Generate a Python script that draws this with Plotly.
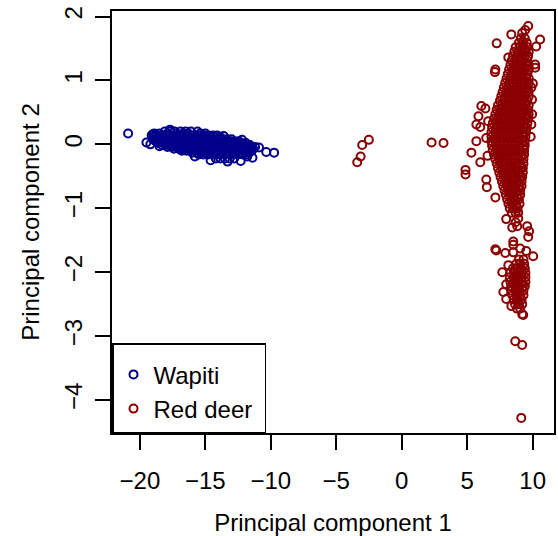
import plotly.graph_objects as go

# ---------------- data ----------------
# Wapiti: dense core, given as rows (y level -> x positions)
wapiti_row_y = [0.20, 0.17, 0.14, 0.11, 0.08, 0.05, 0.02, -0.01, -0.04, -0.07,
                -0.10, -0.13, -0.16, -0.22]
wapiti_row_x = [
    [-18.1, -17.7, -17.35, -16.9, -16.5, -16.1, -15.6],
    [-18.9, -18.5, -17.9, -17.2, -16.7, -16.3, -15.4, -15.0],
    [-19.1, -18.8, -18.45, -18.1, -17.8, -17.45, -17.1, -16.8, -16.45, -16.1, -15.8, -15.45, -15.1, -14.75, -14.4, -14.1],
    [-18.9, -18.55, -18.2, -17.9, -17.55, -17.2, -16.9, -16.55, -16.2, -15.9, -15.55, -15.2, -14.9, -14.55, -14.2, -13.85],
    [-19.0, -18.7, -18.35, -18.0, -17.7, -17.35, -17.0, -16.7, -16.35, -16.0, -15.7, -15.35, -15.0, -14.7, -14.35, -14.0, -13.7, -13.35, -13.0],
    [-18.8, -18.5, -18.15, -17.8, -17.5, -17.15, -16.8, -16.5, -16.15, -15.8, -15.5, -15.15, -14.8, -14.5, -14.15, -13.8, -13.5, -13.15, -12.8, -12.45],
    [-18.6, -18.25, -17.9, -17.6, -17.25, -16.9, -16.6, -16.25, -15.9, -15.6, -15.25, -14.9, -14.6, -14.25, -13.9, -13.6, -13.25, -12.9, -12.6, -12.25, -11.9],
    [-18.3, -17.95, -17.6, -17.3, -16.95, -16.6, -16.3, -15.95, -15.6, -15.3, -14.95, -14.6, -14.3, -13.95, -13.6, -13.3, -12.95, -12.6, -12.3, -11.95, -11.6],
    [-17.9, -17.55, -17.2, -16.9, -16.55, -16.2, -15.9, -15.55, -15.2, -14.9, -14.55, -14.2, -13.9, -13.55, -13.2, -12.9, -12.55, -12.2, -11.9, -11.55, -11.2],
    [-17.4, -17.05, -16.7, -16.4, -16.05, -15.7, -15.4, -15.05, -14.7, -14.4, -14.05, -13.7, -13.4, -13.05, -12.7, -12.4, -12.05, -11.7, -11.35],
    [-16.8, -16.45, -16.1, -15.8, -15.45, -15.1, -14.8, -14.45, -14.1, -13.8, -13.45, -13.1, -12.8, -12.45, -12.1, -11.8, -11.45],
    [-16.0, -15.65, -15.3, -15.0, -14.65, -14.3, -14.0, -13.65, -13.3, -13.0, -12.65, -12.3, -12.0, -11.65],
    [-15.5, -15.15, -14.8, -14.5, -14.15, -13.8, -13.5, -13.15, -12.8, -12.5, -12.15, -11.8],
    [-14.2, -13.85, -13.5, -13.15, -12.8],
]
# Wapiti: scattered points around the core
wapiti_extra_x = [-20.9, -19.5, -19.2, -18.5, -19.0, -17.7, -16.9, -10.9, -10.35, -9.75,
                  -11.8, -11.4, -12.3, -13.3, -14.6, -15.8, -13.6, -12.2]
wapiti_extra_y = [0.17, 0.03, 0.0, -0.03, 0.16, 0.23, -0.08, -0.05, -0.12, -0.13,
                  -0.19, -0.21, -0.26, -0.27, -0.25, -0.19, 0.13, 0.07]

# Red deer: dense upper core as rows
reddeer_row_y = [1.66, 1.59, 1.52, 1.45, 1.38, 1.31, 1.24, 1.17, 1.10, 1.03,
                 0.96, 0.89, 0.82, 0.75, 0.68, 0.61, 0.54, 0.47, 0.40, 0.33,
                 0.26, 0.19, 0.12, 0.05, -0.02, -0.09, -0.16, -0.23, -0.30, -0.37,
                 -0.44, -0.51, -0.58, -0.65, -0.72, -0.79, -0.86, -0.93, -1.00, -1.07]
reddeer_row_x = [
    [9.1, 9.4],
    [8.95, 9.25, 9.55],
    [8.7, 9.0, 9.3, 9.6],
    [8.6, 8.9, 9.2, 9.45, 9.7],
    [8.5, 8.8, 9.1, 9.4, 9.65],
    [8.4, 8.7, 9.0, 9.3, 9.6],
    [8.3, 8.6, 8.9, 9.2, 9.5, 9.7],
    [8.2, 8.5, 8.8, 9.1, 9.4, 9.7],
    [8.1, 8.4, 8.7, 9.0, 9.3, 9.6],
    [8.0, 8.3, 8.6, 8.9, 9.2, 9.5, 9.7],
    [7.9, 8.2, 8.5, 8.8, 9.1, 9.4, 9.7],
    [7.8, 8.1, 8.4, 8.7, 9.0, 9.3, 9.6],
    [7.7, 8.0, 8.3, 8.6, 8.9, 9.2, 9.5, 9.7],
    [7.6, 7.9, 8.2, 8.5, 8.8, 9.1, 9.4, 9.7],
    [7.5, 7.8, 8.1, 8.4, 8.7, 9.0, 9.3, 9.6],
    [7.35, 7.65, 7.95, 8.25, 8.55, 8.85, 9.15, 9.45, 9.7],
    [7.25, 7.55, 7.85, 8.15, 8.45, 8.75, 9.05, 9.35, 9.65],
    [7.15, 7.45, 7.75, 8.05, 8.35, 8.65, 8.95, 9.25, 9.55, 9.7],
    [7.05, 7.35, 7.65, 7.95, 8.25, 8.55, 8.85, 9.15, 9.45, 9.65],
    [6.95, 7.25, 7.55, 7.85, 8.15, 8.45, 8.75, 9.05, 9.35, 9.6],
    [6.9, 7.2, 7.5, 7.8, 8.1, 8.4, 8.7, 9.0, 9.3, 9.55],
    [6.85, 7.15, 7.45, 7.75, 8.05, 8.35, 8.65, 8.95, 9.25, 9.5],
    [6.85, 7.15, 7.45, 7.75, 8.05, 8.35, 8.65, 8.95, 9.25, 9.45],
    [6.85, 7.15, 7.45, 7.75, 8.05, 8.35, 8.65, 8.95, 9.2, 9.4],
    [6.9, 7.2, 7.5, 7.8, 8.1, 8.4, 8.7, 9.0, 9.3, 9.4],
    [6.95, 7.25, 7.55, 7.85, 8.15, 8.45, 8.75, 9.05, 9.35],
    [7.05, 7.35, 7.65, 7.95, 8.25, 8.55, 8.85, 9.15, 9.35],
    [7.15, 7.45, 7.75, 8.05, 8.35, 8.65, 8.95, 9.3],
    [7.25, 7.55, 7.85, 8.15, 8.45, 8.75, 9.05, 9.3],
    [7.35, 7.65, 7.95, 8.25, 8.55, 8.85, 9.1, 9.25],
    [7.45, 7.75, 8.05, 8.35, 8.65, 8.95, 9.25],
    [7.55, 7.85, 8.15, 8.45, 8.75, 9.05, 9.2],
    [7.65, 7.95, 8.25, 8.55, 8.85, 9.15],
    [7.75, 8.05, 8.35, 8.65, 8.95, 9.15],
    [7.85, 8.15, 8.45, 8.75, 9.05],
    [7.95, 8.25, 8.55, 8.85, 9.05],
    [8.05, 8.35, 8.65, 8.95],
    [8.15, 8.45, 8.75, 9.0],
    [8.25, 8.55, 8.85],
    [8.4, 8.7, 8.9],
]
# Red deer: dense lower cluster as rows
reddeer_low_row_y = [-1.80, -1.87, -1.94, -2.01, -2.08, -2.15, -2.22, -2.29, -2.36, -2.43, -2.50, -2.57]
reddeer_low_row_x = [
    [8.95, 9.3],
    [8.75, 9.05, 9.35],
    [8.5, 8.8, 9.1, 9.4],
    [8.3, 8.6, 8.9, 9.2, 9.45],
    [8.25, 8.55, 8.85, 9.15, 9.45],
    [8.3, 8.6, 8.9, 9.2, 9.45],
    [8.35, 8.65, 8.95, 9.25, 9.4],
    [8.4, 8.7, 9.0, 9.3],
    [8.45, 8.75, 9.05, 9.3],
    [8.55, 8.85, 9.15],
    [8.65, 8.95, 9.2],
    [8.8, 9.05],
]
# Red deer: scattered points
reddeer_extra_x = [9.66, 9.43, 9.2, 8.37, 10.57, 7.25, 10.27, 10.19, 10.19, 7.15,
                   7.12, 8.14, 9.9, 10.02, 9.96, 9.9, 6.08, 6.39, 5.86, 5.7,
                   6.0, 5.7, 5.32, 4.87, 4.87, 6.0, 6.46, 6.5, 7.15, 7.98,
                   8.44, 8.82, 9.58, 9.66, 9.73, 7.15, 7.22, 7.91, 8.52, 8.52,
                   8.52, 9.05, 9.51, 10.04, 7.68, 7.98, 7.76, 7.98, 8.37, 9.28,
                   8.14, 9.2, 8.67, 9.2, 9.13, 3.19, 2.28, -3.40, -3.14, -3.02,
                   -2.51, 6.6, 6.45, 6.55, 9.85, 9.95, 8.9, 8.7]
reddeer_extra_y = [1.85, 1.79, 1.74, 1.72, 1.64, 1.58, 1.53, 1.25, 1.20, 1.17,
                   1.13, 1.36, 0.89, 0.95, 0.47, 0.31, 0.60, 0.56, 0.44, 0.31,
                   0.27, 0.05, -0.13, -0.40, -0.47, -0.28, -0.55, -0.67, -0.83, -1.17,
                   -1.30, -1.28, -1.28, -1.45, -1.36, -1.64, -1.66, -1.70, -1.69, -1.52,
                   -1.57, -1.63, -1.67, -1.75, -2.00, -2.19, -2.31, -2.42, -2.53, -2.67,
                   -1.89, -2.66, -3.08, -3.14, -4.28, 0.02, 0.03, -0.28, -0.19, -0.01,
                   0.07, 0.36, 0.10, -0.18, 0.12, 0.70, -1.16, -1.22]

x_ticks = [-20, -15, -10, -5, 0, 5, 10]
x_ticktext = ["\u221220", "\u221215", "\u221210", "\u22125", "0", "5", "10"]
y_ticks = [-4, -3, -2, -1, 0, 1, 2]
y_ticktext = ["\u22124", "\u22123", "\u22122", "\u22121", "0", "1", "2"]


def flatten(row_y, row_x):
    xs, ys = [], []
    for yv, xrow in zip(row_y, row_x):
        for xv in xrow:
            xs.append(xv)
            ys.append(yv)
    return xs, ys


wx, wy = flatten(wapiti_row_y, wapiti_row_x)
wx += wapiti_extra_x
wy += wapiti_extra_y

rx, ry = flatten(reddeer_row_y, reddeer_row_x)
lx, ly = flatten(reddeer_low_row_y, reddeer_low_row_x)
rx += lx + reddeer_extra_x
ry += ly + reddeer_extra_y

BLUE = "#00008B"
RED = "#8B0000"
FONT = "Arial, Liberation Sans, Helvetica, sans-serif"
FS = 24

fig = go.Figure()
fig.add_trace(go.Scatter(x=wx, y=wy, mode="markers", name="Wapiti",
                         marker=dict(symbol="circle-open", size=8, color=BLUE,
                                     line=dict(width=2, color=BLUE))))
fig.add_trace(go.Scatter(x=rx, y=ry, mode="markers", name="Red deer",
                         marker=dict(symbol="circle-open", size=8, color=RED,
                                     line=dict(width=2, color=RED))))

axis_common = dict(showgrid=False, zeroline=False, showline=True, mirror=True,
                   linecolor="black", linewidth=1.5, ticks="outside", ticklen=15,
                   tickwidth=1.5, tickcolor="black",
                   tickfont=dict(family=FONT, size=FS, color="black"))

fig.update_layout(
    width=558, height=536,
    margin=dict(l=112, r=2, t=11, b=102),
    paper_bgcolor="white", plot_bgcolor="white",
    font=dict(family=FONT, size=FS, color="black"),
    xaxis=dict(range=[-22.13, 11.63], tickvals=x_ticks, ticktext=x_ticktext,
               ticklabelstandoff=10,
               title=dict(text="Principal component 1", standoff=24,
                          font=dict(family=FONT, size=FS, color="black")),
               **axis_common),
    yaxis=dict(range=[-4.516, 2.086], tickvals=y_ticks, ticktext=y_ticktext,
               tickangle=-90, ticklabelstandoff=4,
               title=dict(text="Principal component 2", standoff=13,
                          font=dict(family=FONT, size=FS, color="black")),
               **axis_common),
    showlegend=True,
    legend=dict(x=0, y=0, xanchor="left", yanchor="bottom",
                bordercolor="black", borderwidth=1.5, bgcolor="white",
                font=dict(family=FONT, size=FS, color="black"),
                title=dict(text="\u00a0" * 88, font=dict(size=6)),
                itemsizing="trace"),
)

fig.write_html("out.html")
